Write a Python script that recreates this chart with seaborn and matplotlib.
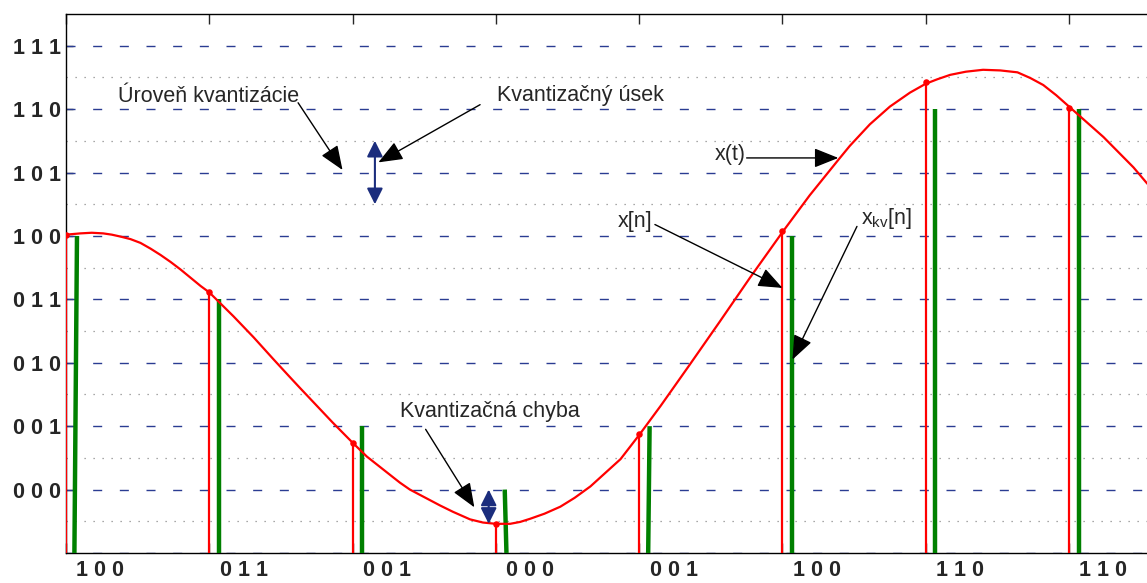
import numpy as np
import pandas as pd
import seaborn as sns
import matplotlib.pyplot as plt

# --- Data (sample index n on x, quantization level on y: 000 = 0 ... 111 = 7) ---
SAMPLE_N = [0, 1, 2, 3, 4, 5, 6, 7]
SAMPLE_VALUES = [4.02, 3.11, 0.74, -0.54, 0.88, 4.08, 6.42, 6.02]
QUANT_LEVELS = [4, 3, 1, 0, 1, 4, 6, 6]
SAMPLE_CODES = ['1 0 0', '0 1 1', '0 0 1', '0 0 0', '0 0 1', '1 0 0', '1 1 0', '1 1 0']
LEVEL_LABELS = ['0 0 0', '0 0 1', '0 1 0', '0 1 1', '1 0 0', '1 0 1', '1 1 0', '1 1 1']

CURVE_T = [0.00, 0.10, 0.18, 0.26, 0.32, 0.38, 0.45, 0.52, 0.59, 0.66, 0.73, 0.80,
           0.87, 0.94, 1.00, 1.17, 1.31, 1.45, 1.56, 1.63, 1.86, 2.00, 2.10, 2.33,
           2.40, 2.61, 2.70, 2.82, 2.91, 3.00, 3.10, 3.17, 3.24, 3.34, 3.45, 3.55,
           3.66, 3.87, 4.00, 4.15, 4.35, 4.56, 4.77, 5.00, 5.19, 5.39, 5.47, 5.61,
           5.75, 5.89, 6.00, 6.08, 6.17, 6.28, 6.40, 6.52, 6.64, 6.73, 6.82, 6.91,
           7.00, 7.24, 7.45, 7.54, 7.63]
CURVE_X = [4.02, 4.04, 4.05, 4.04, 4.02, 3.99, 3.95, 3.89, 3.80, 3.70, 3.59, 3.47,
           3.34, 3.21, 3.11, 2.73, 2.40, 2.05, 1.78, 1.61, 1.06, 0.74, 0.52, 0.11,
           0.00, -0.25, -0.35, -0.47, -0.52, -0.54, -0.54, -0.51, -0.46, -0.38, -0.27, -0.13,
           0.05, 0.48, 0.86, 1.32, 1.96, 2.64, 3.33, 4.06, 4.64, 5.20, 5.42, 5.76,
           6.04, 6.26, 6.40, 6.47, 6.54, 6.59, 6.62, 6.61, 6.58, 6.49, 6.38, 6.22,
           6.04, 5.56, 5.08, 4.84, 4.62]

# --- Layout / style ---
FIGURE_SIZE = (11.47, 5.83)
OUTPUT_DPI = 100
AX_RECT = [0.0575, 0.0515, 0.9495, 0.9245]
X_LIM = (0, 7.6)
Y_LIM = (-1, 7.5)
QUANT_SHIFT = 0.068          # green stems drawn just right of the red ones
STEM_TILT = [0.018, 0.0, 0.0, -0.012, 0.01, 0.0, 0.0, 0.0]
CODE_SHIFT = 0.24            # bottom code labels sit right of each sample
RED = '#ff0000'
GREEN = '#008000'
NAVY = '#1b2d7d'
GRID_BLUE = '#2a3c92'
FONT_SIZE = 15.5


def draw_grid(ax):
    for lvl in range(-1, 8):
        ax.axhline(lvl, color=GRID_BLUE, lw=1, dashes=(6.5, 12.7), zorder=1)
    for lvl in np.arange(-0.5, 7.5, 1.0):
        ax.axhline(lvl, color='#8c8c8c', lw=0.9, dashes=(1, 6.2), zorder=1)


def draw_signal(ax):
    curve = pd.DataFrame({'t': CURVE_T, 'x': CURVE_X})
    samples = pd.DataFrame({'n': SAMPLE_N, 'x': SAMPLE_VALUES, 'q': QUANT_LEVELS})

    # sampled values x[n]
    ax.vlines(samples['n'], Y_LIM[0], samples['x'], color=RED, lw=1.6, zorder=3)
    sns.scatterplot(data=samples, x='n', y='x', ax=ax, color=RED, s=22,
                    edgecolor=RED, linewidth=0, zorder=5)

    # quantized values x_kv[n]
    for n, q, tilt in zip(samples['n'], samples['q'], STEM_TILT):
        ax.plot([n + QUANT_SHIFT - tilt / 2, n + QUANT_SHIFT + tilt / 2],
                [Y_LIM[0], q], color=GREEN, lw=3.2, solid_capstyle='butt', zorder=4)

    # continuous signal x(t)
    sns.lineplot(data=curve, x='t', y='x', ax=ax, color=RED, lw=1.6,
                 estimator=None, sort=False, zorder=6)


def arrow(ax, start, tip, color='black', style='-|>,head_length=0.75,head_width=0.3',
          lw=1.0, scale=20):
    ax.annotate('', xy=tip, xytext=start, zorder=7,
                arrowprops=dict(arrowstyle=style, color=color, lw=lw,
                                mutation_scale=scale, shrinkA=0, shrinkB=0))


def draw_annotations(ax):
    txt = dict(fontsize=FONT_SIZE, va='center', ha='left', zorder=8)
    ax.text(0.36, 6.20, 'Úroveň kvantizácie', **txt)
    arrow(ax, (1.62, 6.10), (1.93, 5.04))

    ax.text(3.01, 6.21, 'Kvantizačný úsek', **txt)
    arrow(ax, (2.89, 6.07), (2.18, 5.16))
    arrow(ax, (2.156, 4.5), (2.156, 5.5), color=NAVY,
          style='<|-|>,head_length=0.6,head_width=0.3', lw=1.5, scale=16)

    ax.text(4.53, 5.28, 'x(t)', **txt)
    arrow(ax, (4.75, 5.23), (5.39, 5.23))

    ax.text(3.85, 4.22, 'x[n]', **txt)
    arrow(ax, (4.11, 4.18), (5.00, 3.18))

    ax.text(5.55, 4.28, r'x$_{\mathregular{kv}}$[n]', **txt)
    arrow(ax, (5.52, 4.15), (5.07, 2.05))

    ax.text(2.33, 1.23, 'Kvantizačná chyba', **txt)
    arrow(ax, (2.51, 0.95), (2.85, -0.28))
    arrow(ax, (2.95, -0.54), (2.95, 0.0), color=NAVY,
          style='<|-|>,head_length=0.6,head_width=0.3', lw=1.5, scale=16)


def format_axes(ax):
    ax.set_xlim(*X_LIM)
    ax.set_ylim(*Y_LIM)
    ax.set_xlabel('')
    ax.set_ylabel('')

    ax.set_xticks(SAMPLE_N)
    ax.set_xticks([n + CODE_SHIFT for n in SAMPLE_N], SAMPLE_CODES, minor=True)
    ax.tick_params(axis='x', which='major', direction='in', length=7, width=1,
                   top=True, bottom=True, labelbottom=False)
    ax.tick_params(axis='x', which='minor', length=0, pad=5,
                   labelsize=FONT_SIZE)
    ax.set_yticks(range(8), LEVEL_LABELS)
    ax.tick_params(axis='y', direction='in', length=5, width=1, pad=3.5,
                   labelsize=FONT_SIZE, left=True, right=False)
    for lab in ax.get_xticklabels(minor=True) + ax.get_yticklabels():
        lab.set_fontweight('bold')

    for side in ['left', 'top', 'bottom']:
        ax.spines[side].set_color('black')
        ax.spines[side].set_linewidth(1)
    ax.spines['right'].set_visible(False)


def main():
    sns.set_style('white')
    plt.rcParams['font.family'] = ['Liberation Sans', 'DejaVu Sans']

    fig = plt.figure(figsize=FIGURE_SIZE, dpi=OUTPUT_DPI)
    ax = fig.add_axes(AX_RECT)

    draw_grid(ax)
    draw_signal(ax)
    draw_annotations(ax)
    format_axes(ax)

    fig.savefig('out.png', dpi=OUTPUT_DPI)
    plt.close(fig)


if __name__ == "__main__":
    main()
